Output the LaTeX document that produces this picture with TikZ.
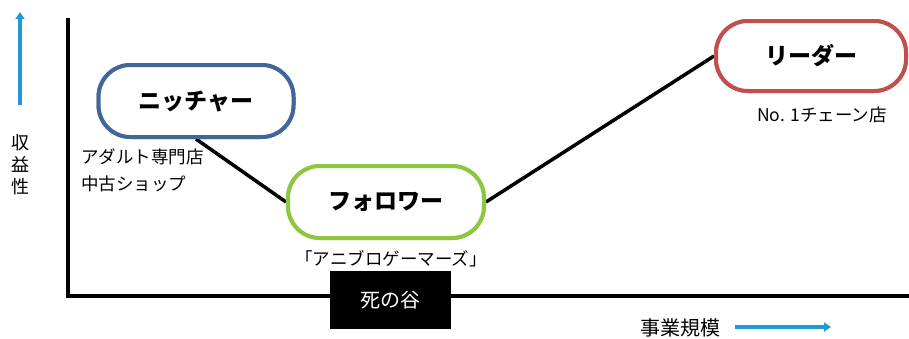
\documentclass[tikz,border=0pt]{standalone}
\usepackage{fontspec}
\setmainfont{Noto Sans CJK JP}
\newfontfamily\jp{Noto Sans CJK JP}
\usetikzlibrary{arrows.meta}
\definecolor{nitblue}{HTML}{41669A}
\definecolor{folgreen}{HTML}{8DC63F}
\definecolor{leadred}{HTML}{C0504D}
\definecolor{axblue}{HTML}{1E9AD6}
\tikzset{
  pill/.style={draw, line width=4pt, rounded corners=32pt, fill=white,
    minimum height=#1, font=\jp\bfseries\fontsize{23}{26}\selectfont, inner sep=0pt},
  pill/.default=72pt,
  note/.style={font=\jp\fontsize{17.5}{20}\selectfont, inner sep=0pt},
  conn/.style={line width=3.5pt, black},
  axis/.style={line width=3.5pt, black},
  bluearrow/.style={line width=4.5pt, axblue, -{Triangle[length=7pt,width=9pt]}}
}
\begin{document}
\begin{tikzpicture}[x=1pt,y=-1pt]
\useasboundingbox (0,0) rectangle (909,338);
% axes
\coordinate (o) at (68,296);
\coordinate (ytop) at (68,18);
\coordinate (xend) at (909,296);
\draw[axis] (ytop) -- (o) -- (xend);
% y axis label and arrow
\coordinate (ya1) at (20,105);
\coordinate (ya2) at (20,12);
\draw[bluearrow] (ya1) -- (ya2);
\node[note, align=center, font=\jp\fontsize{18}{22}\selectfont] (ylab) at (20,165) {収\\益\\性};
% x axis label and arrow
\node[note, font=\jp\fontsize{20}{22}\selectfont] (xlab) at (680,328) {事業規模};
\coordinate (xa1) at (735,327);
\coordinate (xa2) at (831,327);
\draw[bluearrow, line width=3.5pt] (xa1) -- (xa2);
% nodes
\node[pill, draw=nitblue, minimum width=195pt] (nit) at (196,101) {ニッチャー};
\node[pill, draw=folgreen, minimum width=196pt] (fol) at (386,202) {フォロワー};
\node[pill, draw=leadred, minimum width=190pt, minimum height=70pt] (lead) at (811,56) {リーダー};
% connectors
\draw[conn] (nit.south) -- (fol.west);
\draw[conn] (fol.east) -- (lead.west);
% re-draw nodes on top
\node[pill, draw=nitblue, minimum width=195pt] at (196,101) {ニッチャー};
\node[pill, draw=folgreen, minimum width=196pt] at (386,202) {フォロワー};
\node[pill, draw=leadred, minimum width=190pt, minimum height=70pt] at (811,56) {リーダー};
% notes
\node[note, anchor=west] (n1) at (81,157) {アダルト専門店};
\node[note, anchor=west] (n2) at (81,184) {中古ショップ};
\node[note] (n3) at (391,259) {「アニブロゲーマーズ」};
\node[note] (n4) at (822,115) {No. 1チェーン店};
% valley box
\node[fill=black, text=white, minimum width=121pt, minimum height=58pt, inner sep=0pt,
  font=\jp\fontsize{20}{22}\selectfont] (valley) at (390.5,300) {死の谷};
\end{tikzpicture}
\end{document}
